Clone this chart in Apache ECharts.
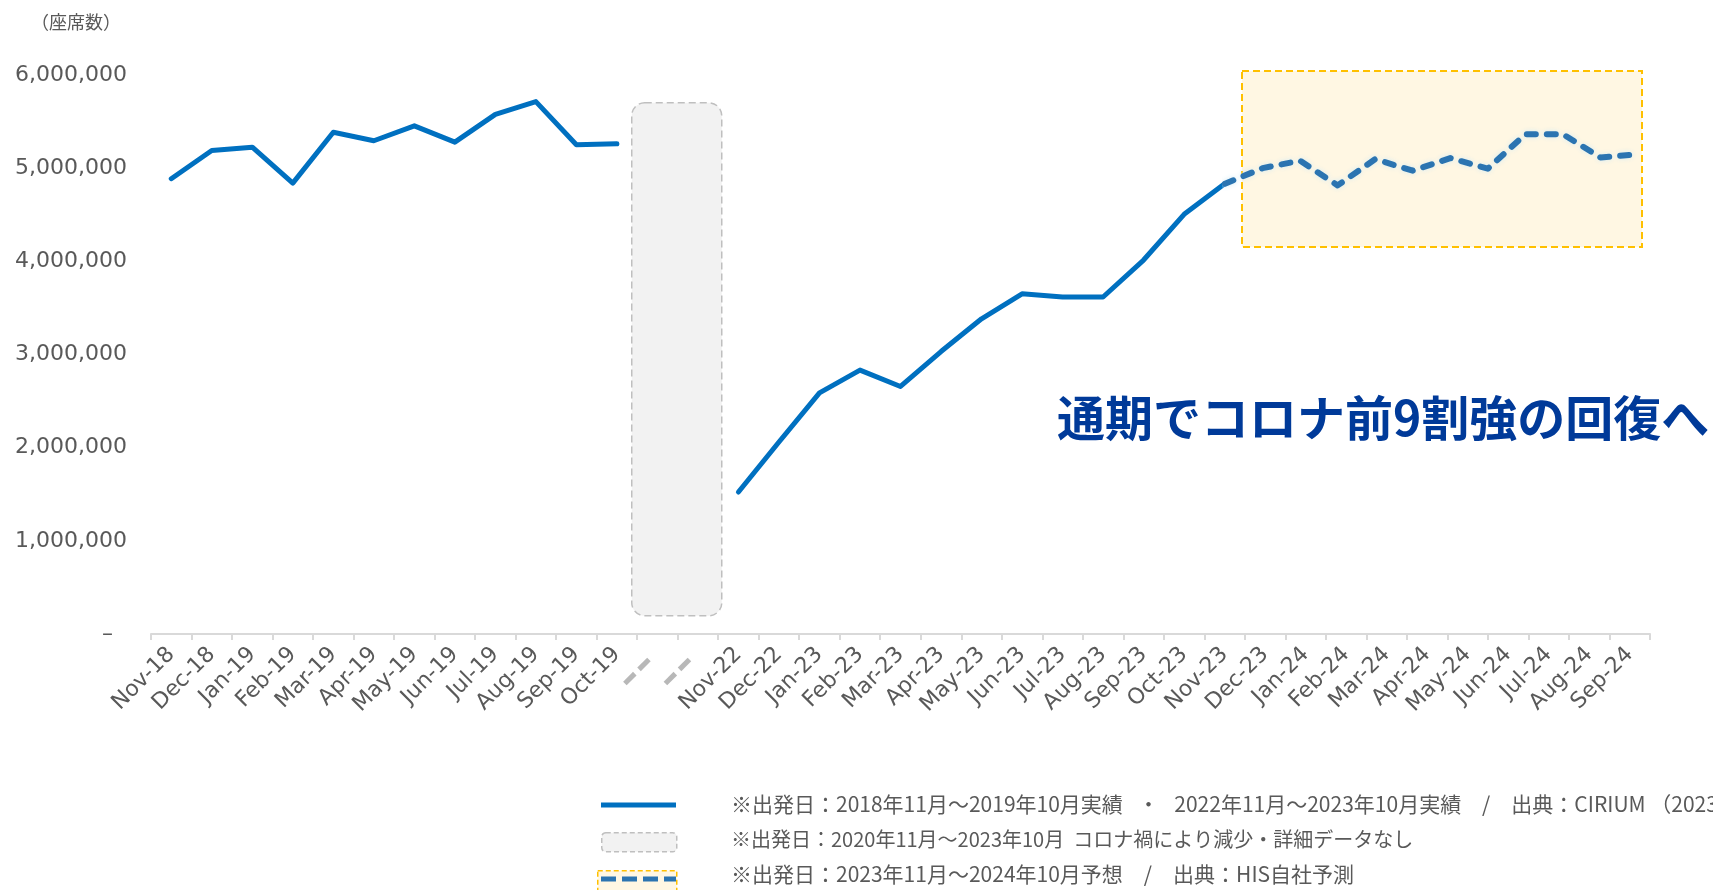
<!DOCTYPE html>
<html>
<head>
<meta charset="utf-8">
<title>座席数</title>
<script src="https://cdn.jsdelivr.net/npm/echarts@6/dist/echarts.min.js"></script>
<style>
html, body { margin: 0; padding: 0; background: #fff; }
#main { width: 1713px; height: 890px; }
</style>
</head>
<body>
<div id="main"></div>
<script>
// months on the axis (two blank slots = 2020-2022 gap)
var months = ['Nov-18', 'Dec-18', 'Jan-19', 'Feb-19', 'Mar-19', 'Apr-19', 'May-19', 'Jun-19', 'Jul-19', 'Aug-19', 'Sep-19', 'Oct-19',
  'gap-1', 'gap-2',
  'Nov-22', 'Dec-22', 'Jan-23', 'Feb-23', 'Mar-23', 'Apr-23', 'May-23', 'Jun-23', 'Jul-23', 'Aug-23', 'Sep-23', 'Oct-23',
  'Nov-23', 'Dec-23', 'Jan-24', 'Feb-24', 'Mar-24', 'Apr-24', 'May-24', 'Jun-24', 'Jul-24', 'Aug-24', 'Sep-24'];

// actual seats
var actual = [4887000, 5190000, 5225000, 4840000, 5386000, 5294000, 5454000, 5279000, 5578000, 5714000, 5251000, 5262000,
  null, null,
  1524000, 2061000, 2588000, 2833000, 2657000, 3032000, 3383000, 3651000, 3617000, 3617000, 4014000, 4505000,
  4833000];

// HIS forecast (Nov-23 .. Oct-24)
var forecastMonths = ['Nov-23', 'Dec-23', 'Jan-24', 'Feb-24', 'Mar-24', 'Apr-24', 'May-24', 'Jun-24', 'Jul-24', 'Aug-24', 'Sep-24', 'Oct-24'];
var forecast = [4833000, 5000000, 5080000, 4815000, 5097000, 4973000, 5108000, 4994000, 5364000, 5364000, 5115000, 5150000];

var legendTexts = [
  '※出発日：2018年11月～2019年10月実績 \u2002・\u2002 2022年11月～2023年10月実績　/　出典：CIRIUM （2023年11月時点）',
  '※出発日：2020年11月～2023年10月  コロナ禍により減少・詳細データなし',
  '※出発日：2023年11月～2024年10月予想　/　出典：HIS自社予測'
];

var latin = "'DejaVu Sans', sans-serif";
var cjk = "'Noto Sans CJK JP', sans-serif";
var gray = '#595959';

var chart = echarts.init(document.getElementById('main'));

var option = {
  animation: false,
  grid: [
    {left: 151, right: 63, top: 75, bottom: 256},
    {left: 1225, right: 75, top: 75, bottom: 256}
  ],
  xAxis: [
    {
      type: 'category',
      gridIndex: 0,
      data: months,
      boundaryGap: true,
      axisLine: {lineStyle: {color: '#d9d9d9', width: 2}},
      axisTick: {show: true, length: 6, lineStyle: {color: '#d9d9d9', width: 2}},
      splitLine: {show: false},
      axisLabel: {
        interval: 0,
        rotate: 45,
        margin: 17,
        color: gray,
        fontFamily: latin,
        fontSize: 22,
        formatter: function (v) {
          // the two skipped years are marked with a broken grey stroke
          return v.indexOf('gap') === 0 ? '{d| }{g| }{d| }{s| }' : v;
        },
        rich: {
          d: {width: 14, height: 5, backgroundColor: '#b8b8b8'},
          g: {width: 6},
          s: {width: 12}
        }
      }
    },
    {
      type: 'category',
      gridIndex: 1,
      data: forecastMonths,
      boundaryGap: false,
      show: false
    }
  ],
  yAxis: [
    {
      type: 'value',
      gridIndex: 0,
      min: 0,
      max: 6000000,
      interval: 1000000,
      axisLine: {show: false},
      axisTick: {show: false},
      splitLine: {show: false},
      axisLabel: {
        margin: 24,
        color: gray,
        fontFamily: latin,
        fontSize: 22,
        formatter: function (v) {
          if (v === 0) return '–  ';
          return v.toString().replace(/\B(?=(\d{3})+(?!\d))/g, ',');
        }
      }
    },
    {
      type: 'value',
      gridIndex: 1,
      min: 0,
      max: 6000000,
      interval: 1000000,
      show: false
    }
  ],
  series: [
    {
      name: '実績',
      type: 'line',
      xAxisIndex: 0,
      yAxisIndex: 0,
      data: actual,
      symbol: 'none',
      connectNulls: false,
      lineStyle: {color: '#0070c0', width: 5, cap: 'round', join: 'round'},
      z: 3
    },
    {
      name: '予想',
      type: 'line',
      xAxisIndex: 1,
      yAxisIndex: 1,
      data: forecast,
      symbol: 'none',
      lineStyle: {
        color: '#2b74b1',
        width: 6,
        type: [9, 11],
        cap: 'round',
        join: 'round',
        shadowColor: 'rgba(210,235,245,0.95)',
        shadowBlur: 5
      },
      z: 4
    }
  ],
  graphic: [
    // no-data band
    {type: 'rect', left: 631, top: 102, z: 1,
      shape: {width: 90, height: 513, r: 13},
      style: {fill: '#f2f2f2', stroke: '#bfbfbf', lineWidth: 1.5, lineDash: [7, 4]}},
    // forecast box
    {type: 'rect', left: 1241, top: 70, z: 1,
      shape: {width: 400, height: 176},
      style: {fill: '#fff7e3', stroke: '#ffc000', lineWidth: 2, lineDash: [7, 4]}},
    {type: 'text', left: 31, top: 13,
      style: {text: '（座席数）', fill: gray, font: '18px ' + cjk}},
    {type: 'text', left: 1057, top: 394,
      style: {text: '通期でコロナ前9割強の回復へ', fill: '#003a99', font: 'bold 48px ' + cjk}},

    // legend
    {type: 'line', shape: {x1: 601, y1: 805, x2: 676, y2: 805},
      style: {stroke: '#0070c0', lineWidth: 5}},
    {type: 'rect', left: 601, top: 832, shape: {width: 75, height: 19, r: 4},
      style: {fill: '#f2f2f2', stroke: '#bfbfbf', lineWidth: 1.5, lineDash: [5, 3]}},
    {type: 'rect', left: 597, top: 870, shape: {width: 79, height: 24},
      style: {fill: '#fff7e3', stroke: '#ffc000', lineWidth: 1.5, lineDash: [5, 3]}},
    {type: 'line', shape: {x1: 601, y1: 879, x2: 676, y2: 879},
      style: {stroke: '#2b74b1', lineWidth: 5, lineDash: [15, 6]}},
    {type: 'text', left: 731, top: 794,
      style: {text: legendTexts[0], fill: gray, font: '21px ' + cjk}},
    {type: 'text', left: 731, top: 829,
      style: {text: legendTexts[1], fill: gray, font: '20px ' + cjk}},
    {type: 'text', left: 731, top: 864,
      style: {text: legendTexts[2], fill: gray, font: '21px ' + cjk}}
  ]
};

chart.setOption(option);
</script>
</body>
</html>
